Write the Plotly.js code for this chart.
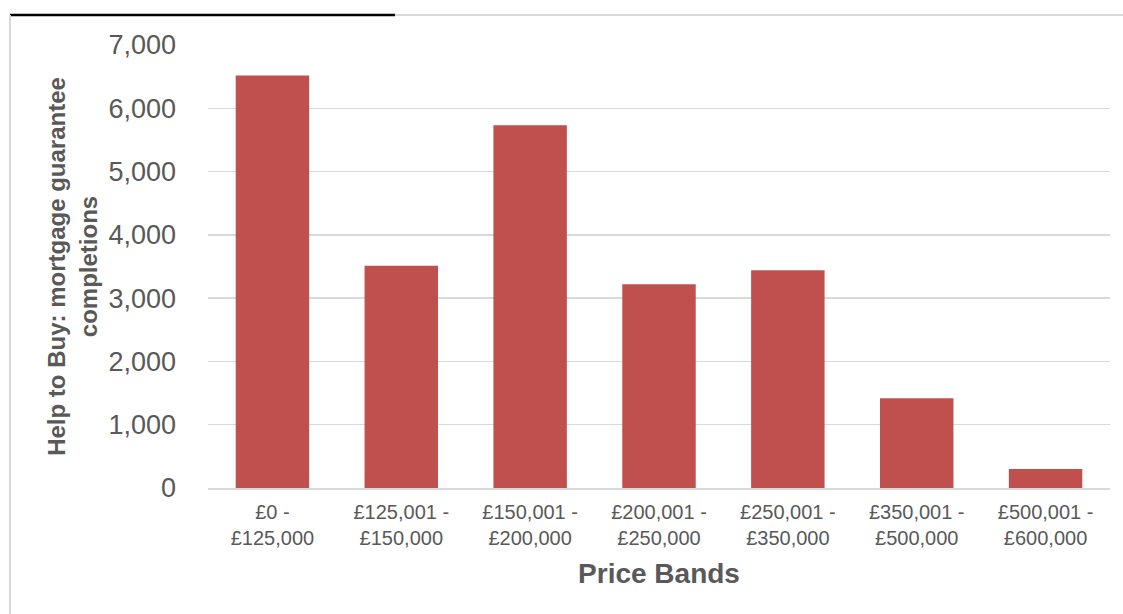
<!DOCTYPE html>
<html>
<head>
<meta charset="utf-8">
<script src="https://cdn.plot.ly/plotly-3.0.1.min.js"></script>
<style>html,body{margin:0;padding:0;background:#fff;}#chart{width:1123px;height:614px;}</style>
</head>
<body>
<div id="chart"></div>
<script>
var categories = ["£0 -<br>£125,000", "£125,001 -<br>£150,000", "£150,001 -<br>£200,000", "£200,001 -<br>£250,000", "£250,001 -<br>£350,000", "£350,001 -<br>£500,000", "£500,001 -<br>£600,000"];
var completions = [6520, 3510, 5730, 3220, 3440, 1420, 300];
var yTickValues = [0, 1000, 2000, 3000, 4000, 5000, 6000, 7000];
var yTickLabels = ["0", "1,000", "2,000", "3,000", "4,000", "5,000", "6,000", "7,000"];

var font = "Liberation Sans, Arial, sans-serif";
var data = [{
  type: "bar",
  x: categories,
  y: completions,
  marker: {color: "#c0504d", line: {width: 0}},
  hoverinfo: "y"
}];
var layout = {
  width: 1123, height: 614,
  margin: {l: 208, r: 13, t: 45, b: 126, pad: 0},
  paper_bgcolor: "#fff", plot_bgcolor: "#fff",
  bargap: 0.43,
  showlegend: false,
  font: {family: font, color: "#595959"},
  xaxis: {
    type: "category",
    tickfont: {size: 20, color: "#595959", family: font},
    showgrid: false, zeroline: false,
    showline: true, linecolor: "#d9d9d9", linewidth: 2,
    ticks: "",
    ticklabelstandoff: 5,
    title: {text: "Price Bands", font: {size: 28, color: "#595959", family: font, weight: "bold"}, standoff: 15}
  },
  yaxis: {
    range: [0, 7000],
    tickvals: yTickValues, ticktext: yTickLabels,
    tickfont: {size: 27, color: "#595959", family: font},
    showgrid: true, gridcolor: "#d9d9d9", gridwidth: 1.5,
    zeroline: false, showline: false, ticks: "",
    ticklabelstandoff: 31,
    title: {text: "Help to Buy: mortgage guarantee<br>completions", font: {size: 24, color: "#595959", family: font, weight: "bold"}, standoff: 4}
  },
  shapes: [
    {type: "line", xref: "paper", yref: "paper", x0: -0.2195, x1: 0.2073, y0: 1.0677, y1: 1.0677, line: {color: "#000", width: 2.5}},
    {type: "line", xref: "paper", yref: "paper", x0: 0.2073, x1: 1.02, y0: 1.0677, y1: 1.0677, line: {color: "#d9d9d9", width: 2}},
    {type: "line", xref: "paper", yref: "paper", x0: -0.2195, x1: -0.2195, y0: 1.0677, y1: -0.3, line: {color: "#d9d9d9", width: 2}}
  ]
};
Plotly.newPlot("chart", data, layout, {displayModeBar: false, staticPlot: true});
</script>
</body>
</html>
